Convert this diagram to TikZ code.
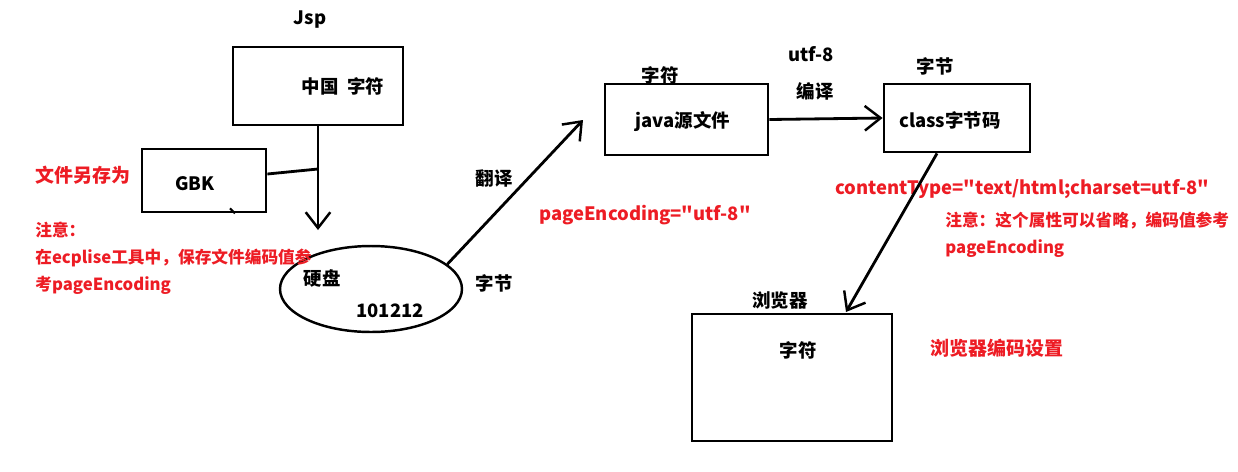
\documentclass[tikz,border=0pt]{standalone}
\usepackage{fontspec}
\setmainfont{Noto Sans CJK SC}[Ligatures=TeXOff]
\usetikzlibrary{arrows.meta,shapes.geometric}
\definecolor{paintred}{RGB}{237,28,36}
\tikzset{
  box/.style={draw, line width=1.6pt, inner sep=0pt},
  lbl/.style={font=\bfseries\fontsize{10.5}{12}\selectfont, inner sep=0pt},
  redlbl/.style={lbl, text=paintred},
  note/.style={font=\bfseries\fontsize{9.5}{11}\selectfont, text=paintred, inner sep=0pt, anchor=west},
  flow/.style={line width=1.6pt, -{Straight Barb[length=9pt,width=14pt,line width=1.4pt]}}
}
\begin{document}
\begin{tikzpicture}[x=0.02cm, y=-0.02cm]
\useasboundingbox (0,0) rectangle (1238,471);

\node [box, minimum width=3.4cm, minimum height=1.56cm] (jsp) at (318,86) {};
\node [box, minimum width=2.48cm, minimum height=1.26cm] (gbk) at (204,180.5) {};
\node [ellipse, draw, line width=1.4pt, inner sep=0pt, minimum width=3.64cm, minimum height=1.72cm] (disk) at (371,289) {};
\node [box, minimum width=3.26cm, minimum height=1.42cm] (java) at (686.5,119.5) {};
\node [box, minimum width=2.92cm, minimum height=1.36cm] (class) at (957,118) {};
\node [box, minimum width=4cm, minimum height=2.54cm] (browser) at (792,377.5) {};

\node [lbl] (jspname) at (310,20) {Jsp};
\node [lbl] (jsptext) at (343,86) {中国\ \ 字符};
\node [lbl] (gbktext) at (195,184) {GBK};
\node [lbl] (disktext) at (322,278) {硬盘};
\node [lbl] (bits) at (390,311) {101212};
\node [lbl] (translate) at (494,178) {翻译};
\node [lbl] (bytes1) at (494,283) {字节};
\node [lbl] (javatext) at (683,122) {java源文件};
\node [lbl] (chars1) at (660,75) {字符};
\node [lbl] (utf) at (811,54) {utf-8};
\node [lbl] (compile) at (815,91) {编译};
\node [lbl] (classtext) at (950,120) {class字节码};
\node [lbl] (bytes2) at (935,66) {字节};
\node [lbl] (browsername) at (780,300) {浏览器};
\node [lbl] (chars2) at (798,350) {字符};

\node [redlbl, font=\bfseries\fontsize{10.8}{12}\selectfont] (saveas) at (83,175) {文件另存为};
\node [note] (note1) at (35,230) {注意：};
\node [note] (note2) at (35,258) {在ecplise工具中，保存文件编码值参};
\node [note] (note3) at (35,285) {考pageEncoding};
\node [redlbl] (pageenc) at (645,215) {pageEncoding="utf-8"};
\node [redlbl] (ctype) at (1022,189) {contentType="text/html;charset=utf-8"};
\node [note] (note4) at (945,221) {注意：这个属性可以省略，编码值参考};
\node [note] (note5) at (945,249) {pageEncoding};
\node [redlbl, font=\bfseries\fontsize{10.8}{12}\selectfont] (bset) at (997,348) {浏览器编码设置};

\coordinate (join) at (318,169);
\coordinate (disktip) at (318,230);
\coordinate (javatip) at (583,120);
\coordinate (browsertip) at (846,312);

\draw [flow] (jsp.south) -- (disktip);
\draw [line width=1.6pt] ([yshift=0.13cm]gbk.east) -- (join);
\draw [line width=1.2pt] ([xshift=0.52cm,yshift=0.1cm]gbk.south) -- ([xshift=0.62cm]gbk.south);
\draw [flow] (disk.18) -- (javatip);
\draw [flow] (java.east) -- (class.west);
\draw [flow] ([xshift=-0.4cm]class.south) -- (browsertip);
\end{tikzpicture}
\end{document}
